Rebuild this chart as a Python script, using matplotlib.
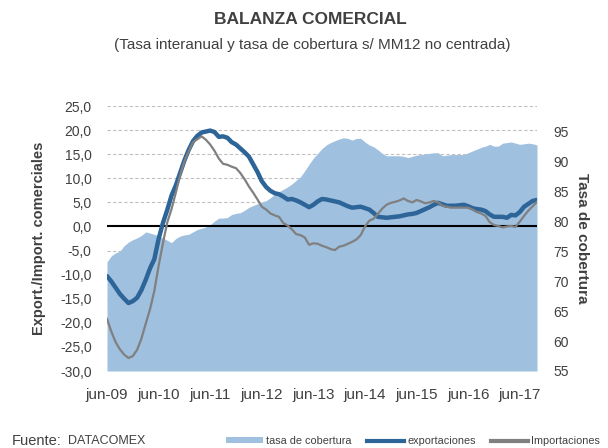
import matplotlib
matplotlib.use("Agg")
import matplotlib.pyplot as plt
from matplotlib.lines import Line2D
from matplotlib.patches import Patch

plt.rcParams['font.family'] = ['Liberation Sans', 'DejaVu Sans']

tick_labels = ["jun-09", "jun-10", "jun-11", "jun-12", "jun-13", "jun-14", "jun-15", "jun-16", "jun-17"]

exportaciones = [
    -10.3, -11.4, -12.7, -14.0, -15.0, -15.9, -15.5, -14.8, -13.2, -11.1,
    -8.7, -6.8, -2.6, 0.7, 3.4, 6.4, 8.5, 11.1, 13.7, 15.9,
    17.7, 18.8, 19.5, 19.7, 19.9, 19.6, 18.6, 18.7, 18.4, 17.5,
    17.0, 16.2, 15.4, 14.5, 12.9, 11.3, 9.4, 8.2, 7.4, 6.9,
    6.7, 6.2, 5.6, 5.7, 5.4, 5.0, 4.5, 4.0, 4.5, 5.2,
    5.7, 5.6, 5.4, 5.2, 5.0, 4.6, 4.2, 3.9, 4.0, 4.1,
    3.8, 3.5, 2.8, 2.0, 1.9, 1.8, 1.9, 2.0, 2.1, 2.3,
    2.5, 2.6, 2.8, 3.2, 3.6, 4.0, 4.5, 4.9, 4.6, 4.3,
    4.3, 4.3, 4.4, 4.5, 4.2, 3.8, 3.6, 3.5, 3.2, 2.5,
    2.0, 2.0, 2.0, 1.8, 2.4, 2.3, 3.0, 4.1, 4.7, 5.3,
    5.5,
]

importaciones = [
    -19.2, -21.8, -24.0, -25.5, -26.6, -27.3, -26.9, -25.6, -23.3, -20.2,
    -17.2, -13.4, -8.2, -3.5, 0.8, 3.6, 7.0, 10.6, 13.5, 15.6,
    17.5, 18.1, 18.7, 18.0, 17.0, 15.7, 14.1, 13.0, 12.8, 12.4,
    12.1, 11.1, 9.8, 8.3, 7.0, 5.6, 4.1, 3.5, 2.7, 2.3,
    2.0, 0.7, 0.2, -0.6, -1.6, -1.8, -2.3, -3.8, -3.5, -3.6,
    -4.0, -4.3, -4.7, -4.9, -4.2, -4.0, -3.6, -3.2, -2.7, -1.8,
    0.0, 1.2, 1.6, 2.6, 3.7, 4.5, 4.9, 5.1, 5.4, 5.8,
    5.3, 5.0, 5.5, 5.2, 4.8, 5.0, 5.3, 5.0, 4.3, 4.1,
    3.9, 3.9, 3.9, 3.9, 3.9, 3.5, 3.0, 2.7, 2.2, 0.9,
    0.3, 0.1, -0.2, 0.0, 0.1, -0.1, 1.0, 2.2, 3.3, 4.2,
    5.1,
]

tasa_cobertura = [
    73.2, 74.2, 74.7, 75.0, 75.9, 76.5, 76.9, 77.2, 77.6, 78.2,
    78.0, 77.8, 77.5, 77.2, 76.8, 76.4, 77.1, 77.5, 77.7, 77.8,
    78.2, 78.6, 78.8, 79.0, 79.4, 80.0, 80.5, 80.5, 80.6, 81.1,
    81.3, 81.4, 81.8, 82.3, 82.6, 82.9, 83.2, 83.4, 83.9, 84.5,
    84.9, 85.3, 85.7, 86.2, 86.8, 87.4, 88.4, 89.5, 90.5, 91.3,
    92.1, 92.7, 93.1, 93.4, 93.7, 93.9, 93.8, 93.5, 93.8, 93.8,
    93.2, 92.7, 92.4, 91.9, 91.3, 90.9, 90.9, 90.9, 90.9, 90.8,
    90.6, 90.8, 91.0, 91.1, 91.2, 91.3, 91.4, 91.4, 90.9, 91.0,
    91.1, 91.1, 91.1, 91.1, 91.4, 91.7, 92.0, 92.3, 92.5, 92.8,
    92.5, 92.5, 93.0, 93.1, 93.2, 93.0, 92.8, 92.9, 93.0, 92.9,
    92.7,
]

left_ticks = [25, 20, 15, 10, 5, 0, -5, -10, -15, -20, -25, -30]
right_ticks = [55, 60, 65, 70, 75, 80, 85, 90, 95]

c_area = '#9fc0df'
c_exp = '#2e6598'
c_imp = '#808080'
c_text = '#404040'

n = len(exportaciones)
x = list(range(n))

fig = plt.figure(figsize=(6.08, 4.48), dpi=100)
ax = fig.add_axes([107/608, 1-371/448, 430/608, 265/448])
ax2 = ax.twinx()

ax.set_zorder(2)
ax.patch.set_visible(False)
ax2.set_zorder(1)

ax.set_ylim(-30, 25)
ax.set_yticks(left_ticks)
ax.set_yticklabels([f"{t:.1f}".replace('.', ',') for t in left_ticks])
ax.set_xlim(0, n - 1)
ax.set_xticks([12 * i for i in range(len(tick_labels))])
ax.set_xticklabels(tick_labels)

ax2.set_ylim(55, 99.2)
ax2.set_yticks(right_ticks)

for t in left_ticks:
    if t != 0:
        yv = 55 + (t + 30) / 55 * (99.2 - 55)
        ax2.axhline(yv, color='#c0c0c0', lw=0.8, ls=(0, (3, 2)), zorder=0)

ax2.fill_between(x, 55, tasa_cobertura, color=c_area, lw=0, zorder=1)

ax.axhline(0, color='black', lw=1.5, zorder=2)
ax.plot(x, exportaciones, color=c_exp, lw=3.2, zorder=3, solid_capstyle='round')
ax.plot(x, importaciones, color=c_imp, lw=1.6, zorder=4)

for a in (ax, ax2):
    for s in a.spines.values():
        s.set_visible(False)
    a.tick_params(length=0, colors=c_text, labelsize=10)
ax.tick_params(axis='x', labelsize=11)
ax.tick_params(axis='y', pad=11)
ax.tick_params(axis='x', pad=12)
ax2.tick_params(axis='y', pad=12)

ax.set_ylabel("Export./Import. comerciales", fontsize=10.5, fontweight='bold', color=c_text, labelpad=10)
ax2.set_ylabel("Tasa de cobertura", fontsize=11, fontweight='bold', color=c_text, rotation=-90, labelpad=14)

fig.text(0.51, 1-20/448, "BALANZA COMERCIAL", ha='center', va='center', fontsize=12.5, fontweight='bold', color=c_text)
fig.text(0.513, 1-45/448, "(Tasa interanual y tasa de cobertura s/ MM12 no centrada)", ha='center', va='center', fontsize=11, color=c_text)

fig.text(12/608, 1-441/448, "Fuente:", ha='left', va='center', fontsize=10.5, color=c_text)
fig.text(68/608, 1-441/448, "DATACOMEX", ha='left', va='center', fontsize=9, color=c_text)

handles = [Patch(facecolor=c_area, edgecolor='none'),
           Line2D([], [], color=c_exp, lw=3),
           Line2D([], [], color=c_imp, lw=3)]
labels = ["tasa de cobertura", "exportaciones", "Importaciones"]
leg = fig.legend(handles, labels, loc='center', bbox_to_anchor=(413/608, 1-441/448), ncol=3,
                 frameon=False, fontsize=7.8, handlelength=3.4, handleheight=0.5, handletextpad=0.3,
                 columnspacing=1.4, borderpad=0)
for t in leg.get_texts():
    t.set_color(c_text)

fig.savefig("out.png", dpi=100)
